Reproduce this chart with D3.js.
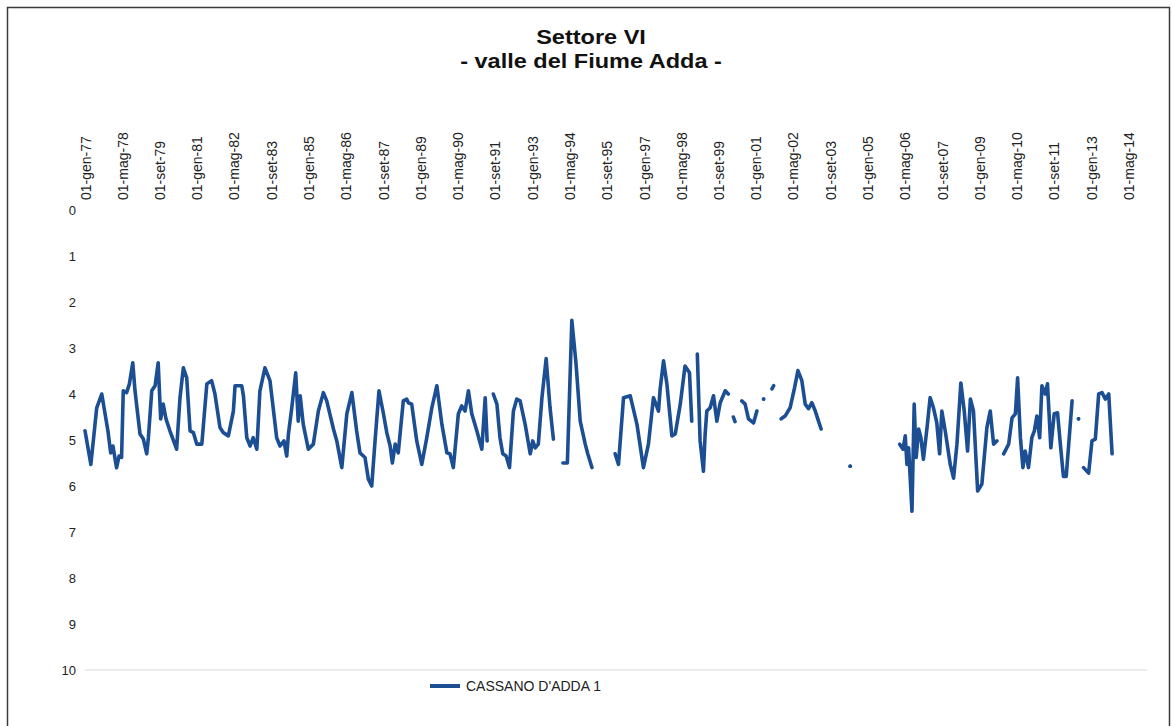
<!DOCTYPE html>
<html>
<head>
<meta charset="utf-8">
<script src="https://cdn.jsdelivr.net/npm/d3@7"></script>
<style>
  html, body { margin: 0; padding: 0; background: #ffffff; }
  svg { display: block; }
  text { font-family: "Liberation Sans", Arial, Helvetica, sans-serif; }
</style>
</head>
<body>
<svg id="chart" width="1173" height="726"></svg>
<script>
// Groundwater depth (m below ground) at the CASSANO D'ADDA 1 well.
// Observation times in decimal years; null entries break the line where readings are missing.
const obsTime = [
  1977.00, 1977.21, 1977.42, 1977.60, 1977.82, 1977.92, 1978.00, 1978.13, 1978.22, 1978.31,
  1978.37, 1978.49, 1978.59, 1978.71, 1978.79, 1978.97, 1979.09, 1979.21, 1979.27, 1979.39,
  1979.51, 1979.62, 1979.71, 1979.80, 1979.90, 1980.04, 1980.28, 1980.40, 1980.52, 1980.64,
  1980.76, 1980.88, 1981.00, 1981.18, 1981.36, 1981.53, 1981.65, 1981.83, 1981.95, 1982.13,
  1982.31, 1982.37, 1982.61, 1982.67, 1982.79, 1982.91, 1983.02, 1983.15, 1983.26, 1983.44,
  1983.62, 1983.86, 1983.98, 1984.12, 1984.22, 1984.28, 1984.40, 1984.54, 1984.63, 1984.70,
  1984.81, 1984.99, 1985.17, 1985.35, 1985.53, 1985.65, 1985.89, 1986.01, 1986.19, 1986.37,
  1986.55, 1986.72, 1986.84, 1987.02, 1987.14, 1987.26, 1987.38, 1987.52, 1987.68, 1987.80,
  1987.92, 1988.00, 1988.10, 1988.21, 1988.39, 1988.51, 1988.57, 1988.69, 1988.87, 1989.05,
  1989.23, 1989.41, 1989.59, 1989.77, 1989.95, 1990.06, 1990.18, 1990.36, 1990.48, 1990.60,
  1990.72, 1990.84, 1991.02, 1991.20, 1991.32, 1991.39, null,
  1991.61, 1991.74, 1991.85, 1991.95, 1992.07, 1992.19, 1992.33, 1992.45, 1992.57, 1992.75,
  1992.93, 1993.02, 1993.11, 1993.22, 1993.35, 1993.50, 1993.64, 1993.76, null,
  1994.10, 1994.26, 1994.42, 1994.57, 1994.72, 1994.90, 1994.99, 1995.14, null,
  1995.97, 1996.09, 1996.27, 1996.51, 1996.75, 1996.98, 1997.16, 1997.34, 1997.52, 1997.58,
  1997.70, 1997.82, 1998.00, 1998.12, 1998.30, 1998.47, 1998.63, 1998.71, null,
  1998.91, 1999.01, 1999.13, 1999.19, 1999.25, 1999.37, 1999.49, 1999.61, 1999.73, 1999.91,
  2000.02, null,
  2000.20, 2000.26, null,
  2000.50, 2000.62, 2000.74, 2000.92, 2001.04, null,
  2001.28, null,
  2001.58, 2001.64, null,
  2001.91, 2002.05, 2002.23, 2002.39, 2002.51, 2002.65, 2002.77, 2002.89, 2003.01, 2003.13,
  2003.22, 2003.34, null,
  2004.38, null,
  2006.15, 2006.27, 2006.35, 2006.41, 2006.47, 2006.59, 2006.67, 2006.74, 2006.83, 2006.91,
  2007.00, 2007.13, 2007.24, 2007.36, 2007.48, 2007.58, 2007.66, 2007.78, 2007.96, 2008.08,
  2008.20, 2008.34, 2008.46, 2008.58, 2008.68, 2008.79, 2008.94, 2009.09, 2009.27, 2009.39,
  2009.51, 2009.63, null,
  2009.87, 2010.05, 2010.17, 2010.29, 2010.37, 2010.47, 2010.56, 2010.64, 2010.76, 2010.88,
  2010.97, 2011.06, 2011.16, 2011.24, 2011.36, 2011.44, 2011.56, 2011.68, 2011.80, 2011.90,
  2012.01, 2012.11, 2012.32, null,
  2012.55, null,
  2012.73, 2012.91, 2013.03, 2013.15, 2013.27, 2013.39, 2013.51, 2013.63, 2013.75
];

const obsDepth = [
  4.80, 5.53, 4.30, 4.00, 4.80, 5.28, 5.13, 5.60, 5.35, 5.38,
  3.93, 3.97, 3.78, 3.32, 3.93, 4.87, 4.98, 5.30, 4.95, 3.93,
  3.82, 3.32, 4.54, 4.22, 4.54, 4.80, 5.20, 4.08, 3.43, 3.65,
  4.80, 4.84, 5.09, 5.09, 3.78, 3.71, 4.00, 4.73, 4.84, 4.91,
  4.37, 3.82, 3.82, 4.04, 4.95, 5.13, 4.95, 5.20, 3.93, 3.43,
  3.71, 4.95, 5.13, 5.02, 5.35, 4.87, 4.30, 3.54, 4.59, 4.04,
  4.66, 5.20, 5.09, 4.37, 3.97, 4.15, 4.76, 5.02, 5.60, 4.43,
  3.97, 4.80, 5.28, 5.38, 5.85, 6.00, 5.02, 3.93, 4.43, 4.84,
  5.13, 5.50, 5.09, 5.28, 4.15, 4.11, 4.19, 4.22, 5.02, 5.53,
  4.95, 4.30, 3.82, 4.66, 5.28, 5.30, 5.60, 4.43, 4.26, 4.37,
  3.93, 4.43, 4.80, 5.20, 4.08, 5.02, null,
  4.00, 4.22, 4.95, 5.30, 5.35, 5.60, 4.37, 4.11, 4.15, 4.66,
  5.30, 5.02, 5.17, 5.09, 4.08, 3.23, 4.30, 4.98, null,
  5.50, 5.50, 2.40, 3.34, 4.59, 5.09, 5.30, 5.60, null,
  5.30, 5.53, 4.08, 4.04, 4.66, 5.60, 5.09, 4.08, 4.37, 3.89,
  3.28, 3.78, 4.91, 4.87, 4.22, 3.39, 3.54, 4.59, null,
  3.13, 5.02, 5.68, 4.87, 4.37, 4.30, 4.04, 4.59, 4.19, 3.93,
  4.00, null,
  4.50, 4.60, null,
  4.15, 4.22, 4.54, 4.63, 4.37, null,
  4.11, null,
  3.89, 3.82, null,
  4.54, 4.48, 4.30, 3.86, 3.49, 3.71, 4.22, 4.32, 4.19, 4.37,
  4.54, 4.76, null,
  5.57, null,
  5.09, 5.20, 4.91, 5.53, 5.17, 6.55, 4.22, 5.38, 4.76, 4.95,
  5.42, 4.73, 4.08, 4.30, 4.63, 5.30, 4.37, 4.80, 5.53, 5.83,
  5.09, 3.76, 4.37, 5.24, 4.11, 4.37, 6.11, 5.96, 4.73, 4.37,
  5.09, 5.02, null,
  5.30, 5.09, 4.52, 4.43, 3.65, 4.95, 5.60, 5.24, 5.60, 4.95,
  4.80, 4.48, 4.95, 3.82, 4.00, 3.78, 5.17, 4.43, 4.41, 5.09,
  5.79, 5.79, 4.15, null,
  4.54, null,
  5.60, 5.72, 5.02, 4.98, 4.00, 3.97, 4.11, 4.00, 5.30
];

const seriesName = "CASSANO D'ADDA 1";
const chartTitle = ["Settore VI", "- valle del Fiume Adda -"];

const xTickLabels = [
  "01-gen-77", "01-mag-78", "01-set-79", "01-gen-81", "01-mag-82", "01-set-83",
  "01-gen-85", "01-mag-86", "01-set-87", "01-gen-89", "01-mag-90", "01-set-91",
  "01-gen-93", "01-mag-94", "01-set-95", "01-gen-97", "01-mag-98", "01-set-99",
  "01-gen-01", "01-mag-02", "01-set-03", "01-gen-05", "01-mag-06", "01-set-07",
  "01-gen-09", "01-mag-10", "01-set-11", "01-gen-13", "01-mag-14"
];
const yTickValues = [0, 1, 2, 3, 4, 5, 6, 7, 8, 9, 10];
const xDomain = ["1977-01-01", "2015-01-01"];

// Italian date locale for the axis labels
const itLocale = d3.timeFormatLocale({
  dateTime: "%A %e %B %Y, %X",
  date: "%d/%m/%Y",
  time: "%H:%M:%S",
  periods: ["AM", "PM"],
  days: ["domenica", "lunedì", "martedì", "mercoledì", "giovedì", "venerdì", "sabato"],
  shortDays: ["dom", "lun", "mar", "mer", "gio", "ven", "sab"],
  months: ["gennaio", "febbraio", "marzo", "aprile", "maggio", "giugno", "luglio",
           "agosto", "settembre", "ottobre", "novembre", "dicembre"],
  shortMonths: ["gen", "feb", "mar", "apr", "mag", "giu", "lug", "ago", "set", "ott", "nov", "dic"]
});
const parseTick = itLocale.parse("%d-%b-%y");
const formatTick = itLocale.format("%d-%b-%y");

function yearToDate(t) {
  const y = Math.floor(t);
  const a = new Date(y, 0, 1).getTime();
  const b = new Date(y + 1, 0, 1).getTime();
  return new Date(a + (t - y) * (b - a));
}

const points = obsTime.map((t, i) => ({
  date: t == null ? null : yearToDate(t),
  v: obsDepth[i]
}));

const svg = d3.select("#chart");

// page frame
svg.append("rect")
  .attr("x", 7.5).attr("y", 7.5)
  .attr("width", 1162).attr("height", 760)
  .attr("fill", "#ffffff")
  .attr("stroke", "#3a3a3a")
  .attr("stroke-width", 1.5);

const plot = { left: 85, right: 1147, top: 210, bottom: 670 };

const x = d3.scaleTime()
  .domain(xDomain.map(s => new Date(s + "T00:00:00")))
  .range([plot.left, plot.right]);

const y = d3.scaleLinear()
  .domain([0, 10])
  .range([plot.top, plot.bottom]);

// title (slightly widened bold type)
svg.append("g")
  .attr("transform", "translate(591,0) scale(1.12,1)")
  .selectAll("text")
  .data(chartTitle)
  .join("text")
  .attr("x", 0)
  .attr("y", (d, i) => 44 + i * 24)
  .attr("text-anchor", "middle")
  .attr("font-size", 21)
  .attr("font-weight", "bold")
  .attr("fill", "#111")
  .text(d => d);

// baseline at depth 10
svg.append("line")
  .attr("x1", plot.left).attr("x2", plot.right)
  .attr("y1", y(10)).attr("y2", y(10))
  .attr("stroke", "#d8d8d8")
  .attr("stroke-width", 1);

// y axis (depth, increasing downward)
const yAxis = svg.append("g")
  .attr("transform", `translate(${plot.left},0)`)
  .call(d3.axisLeft(y).tickValues(yTickValues).tickSize(0).tickPadding(9).tickFormat(d3.format("d")));
yAxis.select(".domain").remove();
yAxis.selectAll("text")
  .attr("font-size", 13)
  .attr("fill", "#222")
  .style("font-family", "'Liberation Sans', Arial, sans-serif");

// x axis at top with date labels reading upward
const xAxis = svg.append("g")
  .attr("transform", `translate(0,${plot.top - 10})`)
  .call(d3.axisTop(x).tickValues(xTickLabels.map(parseTick)).tickSize(0).tickFormat(formatTick));
xAxis.select(".domain").remove();
xAxis.selectAll("text")
  .attr("transform", "rotate(-90)")
  .attr("x", 0)
  .attr("y", 0)
  .attr("dy", "0.36em")
  .attr("text-anchor", "start")
  .attr("font-size", 14)
  .attr("fill", "#222")
  .style("font-family", "'Liberation Sans', Arial, sans-serif");

// depth series
const lineColor = "#1b4e93";
const line = d3.line()
  .defined(d => d.v != null)
  .x(d => x(d.date))
  .y(d => y(d.v));

svg.append("path")
  .datum(points)
  .attr("d", line)
  .attr("fill", "none")
  .attr("stroke", lineColor)
  .attr("stroke-width", 3.6)
  .attr("stroke-linejoin", "round")
  .attr("stroke-linecap", "round");

// single readings that have no neighbours
const lone = points.filter((d, i) =>
  d.v != null &&
  (i === 0 || points[i - 1].v == null) &&
  (i === points.length - 1 || points[i + 1].v == null));
svg.append("g").selectAll("circle")
  .data(lone)
  .join("circle")
  .attr("cx", d => x(d.date))
  .attr("cy", d => y(d.v))
  .attr("r", 1.9)
  .attr("fill", lineColor);

// legend
const legend = svg.append("g").attr("transform", "translate(430,686)");
legend.append("line")
  .attr("x1", 0).attr("x2", 30)
  .attr("y1", 0).attr("y2", 0)
  .attr("stroke", lineColor)
  .attr("stroke-width", 4);
legend.append("text")
  .attr("x", 36)
  .attr("y", 0)
  .attr("dy", "0.35em")
  .attr("font-size", 14)
  .attr("fill", "#222")
  .text(seriesName);
</script>
</body>
</html>
